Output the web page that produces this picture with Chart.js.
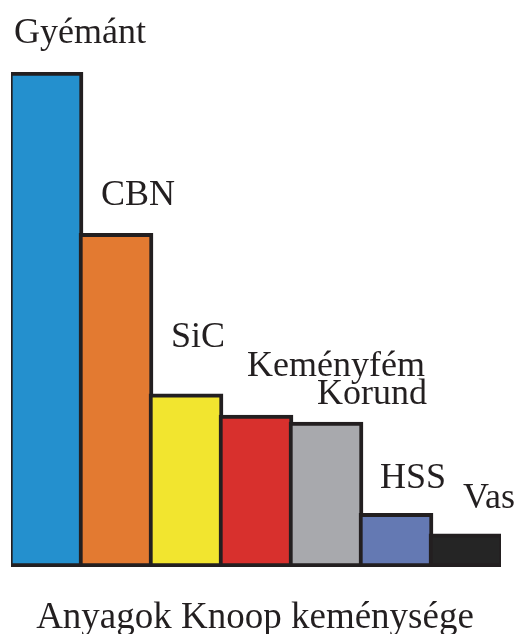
<!DOCTYPE html>
<html>
<head>
<meta charset="utf-8">
<script src="https://cdn.jsdelivr.net/npm/chart.js@4/dist/chart.umd.min.js"></script>
<style>
  html, body { margin: 0; padding: 0; background: #ffffff; }
  #wrap { width: 516px; height: 634px; }
</style>
</head>
<body>
<div id="wrap"><canvas id="c" width="516" height="634"></canvas></div>
<script>
// Knoop hardness of cutting and tool materials
const materials = ['Gyémánt', 'CBN', 'SiC', 'Keményfém', 'Korund', 'HSS', 'Vas'];
const hardness = [7000, 4720, 2450, 2150, 2050, 760, 470];
const chartTitle = 'Anyagok Knoop keménysége';

// bar fills, in the same order as the materials
const fills = ['#2490ce', '#e37a31', '#f2e52f', '#d8302d', '#a8a9ad', '#6479b3', '#252525'];
const outline = '#231f20';
const textColor = '#231f20';
const serif = '"Liberation Serif", "Times New Roman", serif';

// where each name sits relative to its bar: [shift right of bar centre, lift above bar top]
const labelNudge = [[34, 29], [22, 28], [12, 47], [80, 39], [46, 18], [17, 25], [23, 26]];

const barLabels = {
  id: 'barLabels',
  afterDatasetsDraw(chart) {
    const ctx = chart.ctx;
    const meta = chart.getDatasetMeta(0);
    ctx.save();
    ctx.font = '36px ' + serif;
    ctx.fillStyle = textColor;
    ctx.textAlign = 'center';
    ctx.textBaseline = 'alphabetic';
    meta.data.forEach((bar, i) => {
      const p = bar.getProps(['x', 'y'], true);
      const [dx, dy] = labelNudge[i];
      ctx.fillText(materials[i], p.x + dx, p.y - dy);
    });
    // caption under the bars
    ctx.font = '37px ' + serif;
    ctx.fillText(chartTitle, chart.width / 2 - 3, chart.chartArea.bottom + 61);
    ctx.restore();
  }
};

new Chart(document.getElementById('c'), {
  type: 'bar',
  data: {
    labels: materials,
    datasets: [{
      data: hardness,
      backgroundColor: fills,
      borderColor: outline,
      borderWidth: 4,
      borderSkipped: false,
      barThickness: 74
    }]
  },
  options: {
    responsive: false,
    animation: false,
    layout: { padding: { left: 11, right: 15, top: 72, bottom: 67 } },
    scales: {
      x: { display: false, offset: true },
      y: { display: false, min: 0, max: 7000 }
    },
    plugins: {
      legend: { display: false },
      tooltip: { enabled: false },
      title: { display: false }
    }
  },
  plugins: [barLabels]
});
</script>
</body>
</html>
